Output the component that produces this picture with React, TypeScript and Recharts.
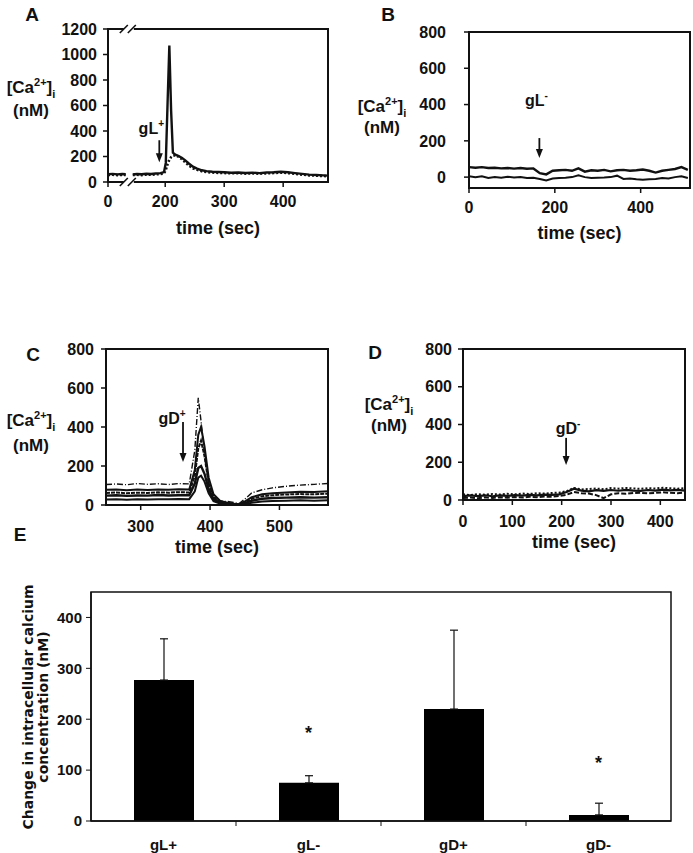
import React from 'react';
import {
  Bar,
  BarChart,
  ErrorBar,
  Line,
  LineChart,
  ReferenceArea,
  ReferenceDot,
  XAxis,
  YAxis,
} from 'recharts';

const FONT = '"Liberation Sans", Arial, Helvetica, sans-serif';
const INK = '#111';

// ---------- A: gL+ (time axis is broken between ~30 s and ~145 s) ----------
const aTime = [0, 8, 16, 24, 30, 40, 145, 152, 160, 168, 176, 184, 192, 198, 201, 204, 207, 210, 213, 217, 222, 228, 234, 240, 247, 254, 262, 270, 280, 290, 300, 312, 324, 336, 348, 360, 372, 384, 396, 408, 420, 432, 444, 456, 468, 476];
const aSolid = [62, 64, 60, 63, 61, null, 60, 63, 61, 65, 63, 67, 70, 78, 150, 620, 1070, 560, 230, 215, 205, 190, 170, 145, 120, 105, 92, 85, 80, 78, 76, 73, 75, 71, 73, 70, 74, 76, 80, 76, 70, 64, 58, 55, 52, 50];
const aDotted = [55, 57, 54, 56, 55, null, 55, 57, 54, 58, 57, 60, 62, 66, 95, 140, 175, 195, 205, 210, 200, 180, 155, 130, 108, 95, 84, 78, 74, 71, 70, 68, 69, 66, 68, 65, 68, 70, 74, 70, 64, 58, 52, 50, 47, 45];
const aXTicks = [0, 200, 300, 400];
const aYTicks = [0, 200, 400, 600, 800, 1000, 1200];
const A_SHIFT = 103; // the part before the break is drawn shifted right
const aPos = (t: number) => (t < 100 ? t + A_SHIFT : t);
const aLabel = (v: number) => String(v < 150 ? v - A_SHIFT : v);

// ---------- B: gL- ----------
const bTime = [0, 15, 30, 45, 60, 75, 90, 105, 120, 135, 150, 165, 180, 195, 210, 225, 240, 255, 270, 285, 300, 315, 330, 345, 360, 375, 390, 405, 420, 435, 450, 465, 480, 495, 510];
const bTop = [55, 52, 55, 50, 52, 48, 50, 47, 50, 46, 48, 22, 15, 35, 38, 40, 35, 48, 30, 38, 35, 40, 32, 38, 40, 35, 38, 42, 35, 25, 35, 40, 45, 55, 40];
const bLow = [5, 0, 5, -5, 0, -3, 2, -2, 0, -5, -3, -10, -18, -8, -5, -3, 0, 10, 0, -5, -3, -2, 0, 8, -10, -8, -12, -15, -12, -10, -5, -8, 0, 5, -5];
const bXTicks = [0, 200, 400];
const bYTicks = [0, 200, 400, 600, 800];

// ---------- C: gD+ ----------
const cTime = [250, 265, 280, 295, 310, 325, 340, 355, 370, 378, 383, 387, 392, 398, 405, 415, 425, 435, 442, 450, 460, 475, 490, 510, 530, 550, 570];
const c1 = [105, 108, 104, 110, 106, 109, 105, 110, 108, 280, 550, 430, 260, 110, 45, 20, 18, 12, 8, 30, 62, 78, 88, 96, 102, 106, 110];
const c2 = [78, 80, 76, 79, 77, 80, 78, 81, 80, 180, 360, 400, 300, 140, 55, 20, 12, 6, 4, 18, 40, 55, 60, 64, 68, 67, 70];
const c3 = [62, 64, 60, 63, 62, 65, 63, 66, 64, 150, 290, 330, 250, 110, 40, 15, 8, 4, 3, 12, 32, 45, 50, 54, 56, 55, 58];
const c4 = [48, 50, 47, 49, 48, 51, 49, 50, 50, 110, 190, 200, 160, 80, 30, 10, 5, 2, 2, 8, 22, 32, 36, 38, 40, 38, 40];
const c5 = [28, 30, 27, 29, 28, 30, 29, 31, 30, 70, 140, 150, 120, 60, 20, 6, 3, 1, 1, 4, 12, 18, 20, 22, 24, 22, 24];
const cXTicks = [300, 400, 500];
const cdYTicks = [0, 200, 400, 600, 800];

// ---------- D: gD- ----------
const dTime = [0, 15, 30, 45, 60, 75, 90, 105, 120, 135, 150, 165, 180, 195, 210, 225, 240, 255, 270, 285, 300, 315, 330, 345, 360, 375, 390, 405, 420, 435, 450];
const d1 = [20, 24, 21, 25, 20, 24, 22, 26, 23, 27, 25, 28, 27, 30, 42, 60, 50, 46, 52, 48, 53, 49, 54, 50, 48, 53, 50, 55, 51, 54, 50];
const d2 = [10, 13, 9, 14, 11, 15, 12, 16, 13, 17, 15, 18, 17, 21, 28, 42, 36, 34, 26, 10, 30, 36, 33, 37, 38, 35, 38, 41, 38, 36, 39];
const d3 = [30, 26, 31, 28, 32, 29, 33, 30, 34, 32, 36, 34, 37, 39, 47, 64, 56, 58, 61, 57, 63, 60, 64, 61, 59, 63, 61, 65, 62, 60, 63];
const dXTicks = [0, 100, 200, 300, 400];

// ---------- E: summary ----------
const eCats = ['gL+', 'gL-', 'gD+', 'gD-'];
const eMean = [277, 75, 220, 12];
const eErr = [81, 14, 155, 23];
const eStar = [null, 180, null, 122];
const eYTicks = [0, 100, 200, 300, 400];

const aRows = aTime.map((t, i) => ({ x: aPos(t), s: aSolid[i], d: aDotted[i] }));
const bRows = bTime.map((t, i) => ({ x: t, s: bTop[i], d: bLow[i] }));
const cRows = cTime.map((t, i) => ({ x: t, c1: c1[i], c2: c2[i], c3: c3[i], c4: c4[i], c5: c5[i] }));
const dRows = dTime.map((t, i) => ({ x: t, d1: d1[i], d2: d2[i], d3: d3[i] }));
const eRows = eCats.map((c, i) => ({ cat: c, mean: eMean[i], err: [0, eErr[i]] }));

const tickStyle = { fill: INK, fontSize: 16, fontWeight: 700, fontFamily: FONT };

type Series = { key: string; width: number; dash?: string };
type Pointer = { x: number; y: number; text: string; sign: string; dx: number; up: number; len: number };

function Arrow({ cx, cy, pt }: { cx: number; cy: number; pt: Pointer }) {
  return (
    <g>
      <text x={cx + pt.dx} y={cy - pt.up} textAnchor="middle" fill={INK} fontSize={16} fontWeight={700} fontFamily={FONT}>
        {pt.text}
        <tspan dy={-7} fontSize={10}>{pt.sign}</tspan>
      </text>
      <line x1={cx} y1={cy - pt.len} x2={cx} y2={cy - 6} stroke={INK} strokeWidth={1.8} />
      <polygon points={`${cx - 3.5},${cy - 9} ${cx + 3.5},${cy - 9} ${cx},${cy}`} fill={INK} />
    </g>
  );
}

const BreakMark = (d: any) => (
  <g>
    <rect x={d.cx - 6} y={d.cy - 2} width={10} height={4} fill="#fff" />
    <line x1={d.cx - 10} y1={d.cy + 4} x2={d.cx - 2} y2={d.cy - 4} stroke={INK} strokeWidth={1.6} />
    <line x1={d.cx - 2} y1={d.cy + 4} x2={d.cx + 6} y2={d.cy - 4} stroke={INK} strokeWidth={1.6} />
  </g>
);

function TracePanel(p: {
  left: number; top: number; width: number; height: number;
  margin: { top: number; right: number; bottom: number; left: number };
  yWidth: number; xHeight: number; xTickMargin: number; yTickMargin: number; labelOffset: number;
  rows: any[]; series: Series[];
  xDomain: [number, number]; xTicks: number[]; xFmt?: (v: number) => string;
  yDomain: [number, number]; yTicks: number[];
  pointer: Pointer; children?: React.ReactNode;
}) {
  return (
    <div style={{ position: 'absolute', left: p.left, top: p.top }}>
      <LineChart width={p.width} height={p.height} data={p.rows} margin={p.margin}>
        <XAxis
          type="number"
          dataKey="x"
          domain={p.xDomain}
          ticks={p.xTicks}
          tickFormatter={p.xFmt}
          allowDataOverflow
          interval={0}
          axisLine={false}
          tickLine={{ stroke: INK, strokeWidth: 1.5 }}
          tickSize={5}
          tickMargin={p.xTickMargin}
          height={p.xHeight}
          tick={tickStyle}
          label={{ value: 'time (sec)', position: 'insideBottom', offset: p.labelOffset, fill: INK, fontSize: 18, fontWeight: 700, fontFamily: FONT }}
        />
        <YAxis
          type="number"
          domain={p.yDomain}
          ticks={p.yTicks}
          allowDataOverflow
          interval={0}
          axisLine={false}
          tickLine={{ stroke: INK, strokeWidth: 1.5 }}
          tickSize={5}
          tickMargin={p.yTickMargin}
          width={p.yWidth}
          tick={tickStyle}
        />
        <ReferenceArea y1={p.yDomain[0]} y2={p.yDomain[1]} fill="none" stroke={INK} strokeWidth={2} ifOverflow="visible" />
        {p.series.map((s) => (
          <Line
            key={s.key}
            type="linear"
            dataKey={s.key}
            stroke={INK}
            strokeWidth={s.width}
            strokeDasharray={s.dash}
            dot={false}
            isAnimationActive={false}
          />
        ))}
        <ReferenceDot
          x={p.pointer.x}
          y={p.pointer.y}
          r={0}
          ifOverflow="visible"
          shape={(d: any) => <Arrow cx={d.cx} cy={d.cy} pt={p.pointer} />}
        />
        {p.children}
      </LineChart>
    </div>
  );
}

function CaLabel({ cx, cy, gap }: { cx: number; cy: number; gap: number }) {
  return (
    <div
      style={{
        position: 'absolute', left: cx - 40, top: cy - gap / 2, width: 80, textAlign: 'center',
        font: `700 17px ${FONT}`, lineHeight: `${gap}px`, color: INK, whiteSpace: 'nowrap',
      }}
    >
      <div>
        [Ca<span style={{ fontSize: 11, position: 'relative', top: -7 }}>2+</span>]
        <span style={{ fontSize: 11, position: 'relative', top: 5 }}>i</span>
      </div>
      <div>(nM)</div>
    </div>
  );
}

function Letter({ x, y, c }: { x: number; y: number; c: string }) {
  return (
    <div style={{ position: 'absolute', left: x - 10, top: y - 11, width: 20, textAlign: 'center', font: `700 19px ${FONT}`, lineHeight: '22px', color: INK }}>
      {c}
    </div>
  );
}

const E_PLOT_W = 580;

function CatTick(props: any) {
  const { x, y, payload, index } = props;
  const band = E_PLOT_W / eCats.length;
  const axisY = y - 18;
  return (
    <g>
      {index > 0 && <line x1={x - band / 2} x2={x - band / 2} y1={axisY} y2={axisY + 5} stroke={INK} strokeWidth={1} />}
      <text x={x} y={y} dy="0.71em" textAnchor="middle" fill={INK} fontSize={15} fontWeight={700} fontFamily={FONT}>
        {payload.value}
      </text>
    </g>
  );
}

const Star = (d: any) => (
  <text x={d.cx} y={d.cy + 10} textAnchor="middle" fill={INK} fontSize={18} fontWeight={700} fontFamily={FONT}>
    *
  </text>
);

export default function App() {
  return (
    <div style={{ position: 'absolute', left: 0, top: 0, width: 693, height: 853, background: '#fff', overflow: 'hidden' }}>
      <TracePanel
        left={0} top={0} width={340} height={245}
        margin={{ top: 29, right: 12, bottom: 0, left: 0 }}
        yWidth={108} xHeight={63} xTickMargin={9} yTickMargin={6} labelOffset={11}
        rows={aRows}
        series={[{ key: 's', width: 2.4 }, { key: 'd', width: 2.6, dash: '2 2' }]}
        xDomain={[aPos(0), 476]}
        xTicks={aXTicks.map(aPos)}
        xFmt={aLabel}
        yDomain={[0, 1200]} yTicks={aYTicks}
        pointer={{ x: 190, y: 155, text: 'gL', sign: '+', dx: -8, up: 28, len: 22 }}
      >
        <ReferenceDot x={aPos(37)} y={1200} r={0} ifOverflow="visible" shape={BreakMark} />
        <ReferenceDot x={aPos(37)} y={0} r={0} ifOverflow="visible" shape={BreakMark} />
      </TracePanel>

      <TracePanel
        left={350} top={0} width={343} height={245}
        margin={{ top: 32, right: 3, bottom: 0, left: 0 }}
        yWidth={119} xHeight={57} xTickMargin={9} yTickMargin={18} labelOffset={6}
        rows={bRows}
        series={[{ key: 's', width: 2.4 }, { key: 'd', width: 2 }]}
        xDomain={[0, 515]} xTicks={bXTicks}
        yDomain={[-60, 800]} yTicks={bYTicks}
        pointer={{ x: 164, y: 105, text: 'gL', sign: '-', dx: -3, up: 52, len: 20 }}
      />

      <TracePanel
        left={0} top={300} width={340} height={260}
        margin={{ top: 49, right: 12, bottom: 0, left: 0 }}
        yWidth={106} xHeight={55} xTickMargin={11} yTickMargin={7} labelOffset={7}
        rows={cRows}
        series={[
          { key: 'c1', width: 1.4, dash: '6 2 1 2' },
          { key: 'c2', width: 2 },
          { key: 'c3', width: 2, dash: '4 1' },
          { key: 'c4', width: 2.4 },
          { key: 'c5', width: 2 },
        ]}
        xDomain={[250, 570]} xTicks={cXTicks}
        yDomain={[0, 800]} yTicks={cdYTicks}
        pointer={{ x: 361, y: 220, text: 'gD', sign: '+', dx: -11, up: 38, len: 40 }}
      />

      <TracePanel
        left={350} top={300} width={343} height={260}
        margin={{ top: 49, right: 8, bottom: 0, left: 0 }}
        yWidth={113} xHeight={60} xTickMargin={11} yTickMargin={6} labelOffset={12}
        rows={dRows}
        series={[
          { key: 'd1', width: 2.2 },
          { key: 'd2', width: 2, dash: '5 2' },
          { key: 'd3', width: 2, dash: '2 2' },
        ]}
        xDomain={[0, 450]} xTicks={dXTicks}
        yDomain={[0, 800]} yTicks={cdYTicks}
        pointer={{ x: 209, y: 186, text: 'gD', sign: '-', dx: 2, up: 31, len: 27 }}
      />

      <div style={{ position: 'absolute', left: 0, top: 570 }}>
        <BarChart width={693} height={283} data={eRows} margin={{ top: 22, right: 22, bottom: 0, left: 0 }}>
          <XAxis
            dataKey="cat"
            height={32}
            interval={0}
            axisLine={{ stroke: INK, strokeWidth: 1.5 }}
            tickLine={false}
            tickSize={5}
            tickMargin={13}
            tick={<CatTick />}
          />
          <YAxis
            type="number"
            domain={[0, 450]}
            ticks={eYTicks}
            interval={0}
            width={91}
            axisLine={{ stroke: INK, strokeWidth: 1.5 }}
            tickLine={{ stroke: INK, strokeWidth: 1 }}
            tickSize={5}
            tickMargin={4}
            tick={{ ...tickStyle, fontSize: 15 }}
          />
          <ReferenceArea y1={0} y2={450} fill="none" stroke={INK} strokeWidth={1.5} ifOverflow="visible" />
          <Bar dataKey="mean" fill="#000" barSize={60} isAnimationActive={false}>
            <ErrorBar dataKey="err" direction="y" width={4} stroke={INK} strokeWidth={1.2} isAnimationActive={false} />
          </Bar>
          {eCats.map((c, i) =>
            eStar[i] == null ? null : <ReferenceDot key={c} x={c} y={eStar[i] as number} r={0} ifOverflow="visible" shape={Star} />,
          )}
        </BarChart>
      </div>

      <Letter x={32} y={15} c="A" />
      <Letter x={388} y={15} c="B" />
      <Letter x={33} y={355} c="C" />
      <Letter x={375} y={353} c="D" />
      <Letter x={20} y={535} c="E" />

      <CaLabel cx={31} cy={88} gap={22} />
      <CaLabel cx={382} cy={106} gap={19} />
      <CaLabel cx={31} cy={420} gap={23} />
      <CaLabel cx={389} cy={404} gap={19} />

      <div
        style={{
          position: 'absolute', left: 35.5 - 150, top: 707 - 15, width: 300, height: 30,
          transform: 'rotate(-90deg)', transformOrigin: '150px 15px', textAlign: 'center',
          font: '700 14px "DejaVu Sans", Verdana, sans-serif', lineHeight: '15px', color: INK, whiteSpace: 'nowrap',
        }}
      >
        Change in intracellular calcium
        <br />
        concentration (nM)
      </div>
    </div>
  );
}
